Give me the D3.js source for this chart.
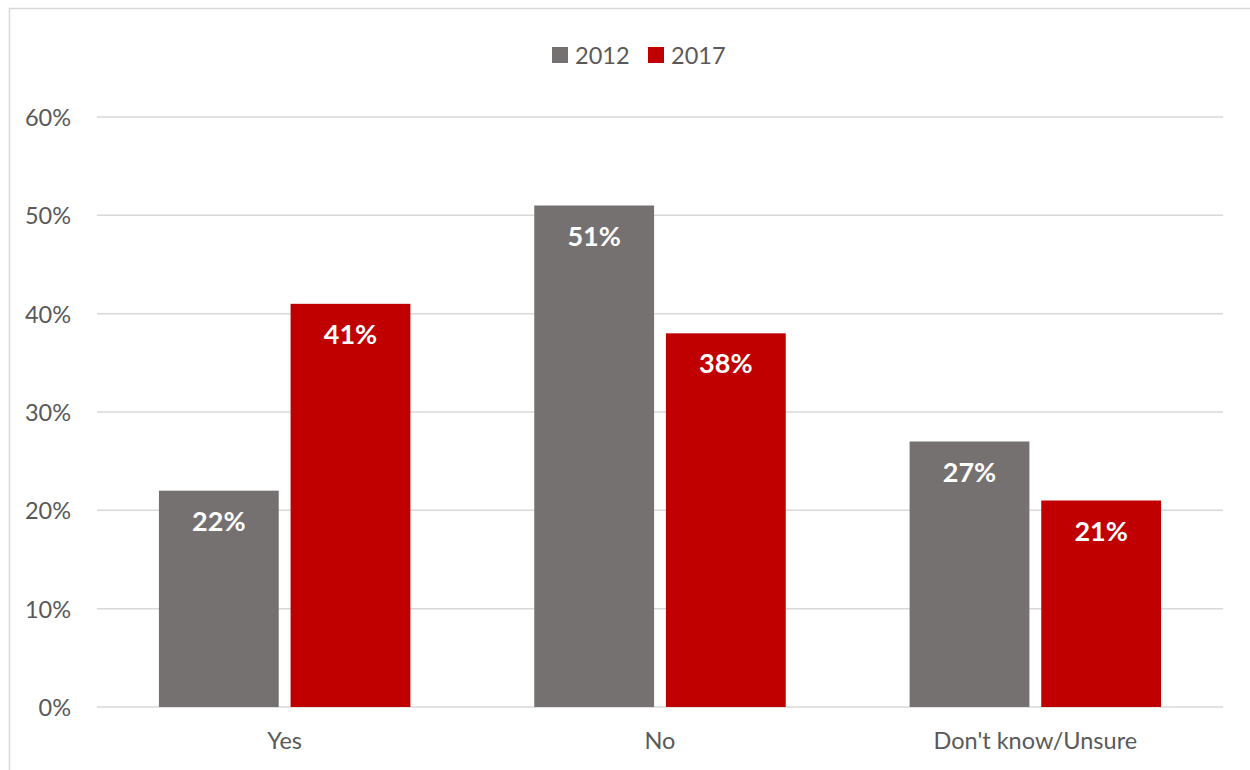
<!DOCTYPE html>
<html>
<head>
<meta charset="utf-8">
<script src="https://cdn.jsdelivr.net/npm/d3@7"></script>
<style>
  html, body { margin: 0; padding: 0; background: #fff; }
  svg { display: block; font-family: Lato, "Open Sans", sans-serif; }
</style>
</head>
<body>
<svg id="chart" width="1250" height="770"></svg>
<script>
// Survey answers, share of respondents by year
const categories = ["Yes", "No", "Don't know/Unsure"];
const seriesNames = ["2012", "2017"];
const values2012 = [22, 51, 27];
const values2017 = [41, 38, 21];
const yTicks = [0, 10, 20, 30, 40, 50, 60];
const seriesColors = ["#767171", "#C00000"];

const seriesValues = [values2012, values2017];

const svg = d3.select("#chart");
const W = 1250, H = 770;
const textColor = "#595959";
const fontFamily = "Lato, sans-serif";

// outer frame
svg.append("rect")
  .attr("x", 9.5).attr("y", 8.5)
  .attr("width", W + 10).attr("height", H + 10)
  .attr("fill", "#fff").attr("stroke", "#d9d9d9").attr("stroke-width", 1.5);

const plot = { left: 97, right: 1223, top: 117, bottom: 707 };

const x = d3.scaleBand()
  .domain(categories)
  .range([plot.left, plot.right])
  .paddingInner(0.33)
  .paddingOuter(0.165);

const xs = d3.scaleBand()
  .domain(seriesNames)
  .range([0, x.bandwidth()])
  .paddingInner(0.09);

const y = d3.scaleLinear()
  .domain([0, 60])
  .range([plot.bottom, plot.top]);

// gridlines
svg.append("g")
  .selectAll("line")
  .data(yTicks)
  .join("line")
  .attr("x1", plot.left).attr("x2", plot.right)
  .attr("y1", d => y(d)).attr("y2", d => y(d))
  .attr("stroke", "#d9d9d9").attr("stroke-width", 1.5);

// y axis labels
const yAxis = d3.axisLeft(y)
  .tickValues(yTicks)
  .tickFormat(d => d + "%")
  .tickSize(0)
  .tickPadding(0);
const gy = svg.append("g")
  .attr("transform", `translate(${plot.left - 26},1)`)
  .call(yAxis);
gy.select(".domain").remove();
gy.selectAll("text")
  .attr("fill", textColor)
  .attr("font-size", 23.5)
  .attr("font-family", fontFamily);

// x axis labels
const xAxis = d3.axisBottom(x).tickSize(0).tickPadding(0);
const gx = svg.append("g")
  .attr("transform", `translate(0,${plot.bottom + 25})`)
  .call(xAxis);
gx.select(".domain").remove();
gx.selectAll("text")
  .attr("fill", textColor)
  .attr("font-size", 23.5)
  .attr("font-family", fontFamily);

// bars
const rows = [];
categories.forEach((c, i) => {
  seriesNames.forEach((s, j) => {
    rows.push({ cat: c, series: s, value: seriesValues[j][i], color: seriesColors[j] });
  });
});

const bars = svg.append("g");
bars.selectAll("rect")
  .data(rows)
  .join("rect")
  .attr("x", d => x(d.cat) + xs(d.series))
  .attr("y", d => y(d.value))
  .attr("width", xs.bandwidth())
  .attr("height", d => y(0) - y(d.value))
  .attr("fill", d => d.color);

// value labels inside the bar tops
bars.selectAll("text")
  .data(rows)
  .join("text")
  .attr("x", d => x(d.cat) + xs(d.series) + xs.bandwidth() / 2)
  .attr("y", d => y(d.value) + 40)
  .attr("text-anchor", "middle")
  .attr("fill", "#fff")
  .attr("font-weight", "bold")
  .attr("font-size", 27)
  .attr("font-family", fontFamily)
  .text(d => d.value + "%");

// legend
const legend = svg.append("g");
const legendX = [552, 648];
seriesNames.forEach((s, j) => {
  const g = legend.append("g").attr("transform", `translate(${legendX[j]},47)`);
  g.append("rect").attr("width", 16).attr("height", 16).attr("fill", seriesColors[j]);
  g.append("text")
    .attr("x", 23).attr("y", 17)
    .attr("fill", textColor)
    .attr("font-size", 23.5)
    .attr("font-family", fontFamily)
    .text(s);
});
</script>
</body>
</html>
